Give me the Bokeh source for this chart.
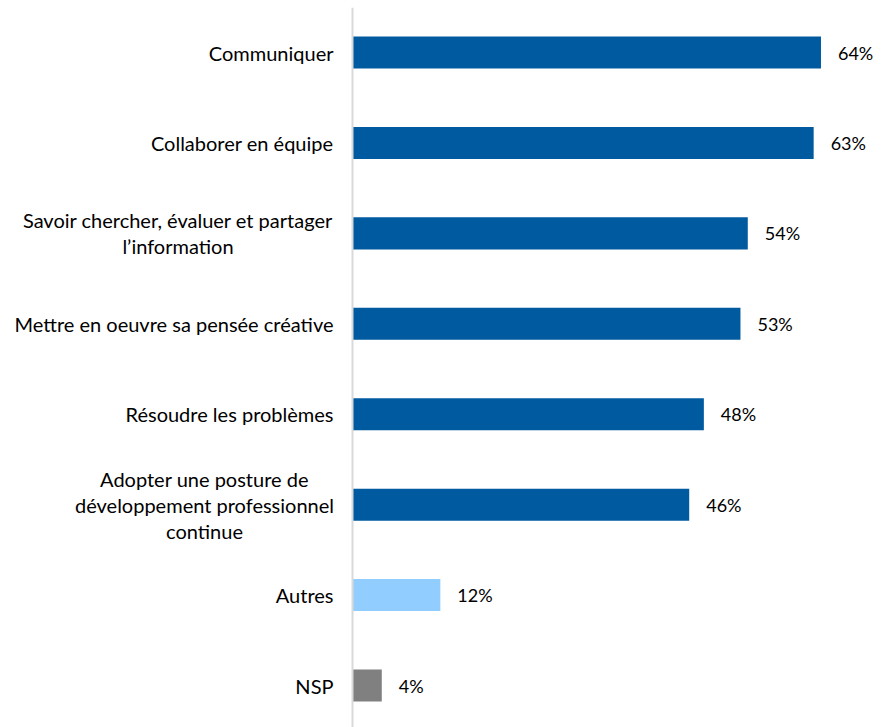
from bokeh.plotting import figure
from bokeh.models import Range1d, ColumnDataSource, Span
from bokeh.embed import file_html
from bokeh.resources import INLINE
from bokeh.core.properties import value

categories = [
    "Communiquer",
    "Collaborer en équipe",
    "Savoir chercher, évaluer et partager\nl\u2019information",
    "Mettre en oeuvre sa pensée créative",
    "Résoudre les problèmes",
    "Adopter une posture de\ndéveloppement professionnel\ncontinue",
    "Autres",
    "NSP",
]
values = [64, 63, 54, 53, 48, 46, 12, 4]
colors = ["#005AA0"] * 6 + ["#92CDFF", "#808080"]
value_labels = [f"{v}%" for v in values]

FONT = "Lato"
LABEL_SIZE = "20px"
GAP = 19  # px between label block and axis line
# estimated widest-line width (px) of multi-line labels, used to center the lines of the block
block_width = {2: 311, 5: 258}

positions = list(range(len(categories)))
src = ColumnDataSource(dict(y=positions, v=values, c=colors, lab=value_labels))

single = [i for i, c in enumerate(categories) if "\n" not in c]
multi = [i for i, c in enumerate(categories) if "\n" in c]
src_single = ColumnDataSource(dict(y=[positions[i] for i in single],
                                   x=[0] * len(single),
                                   t=[categories[i] for i in single]))
src_multi = ColumnDataSource(dict(y=[positions[i] for i in multi],
                                  x=[0] * len(multi),
                                  t=[categories[i] for i in multi],
                                  off=[-(GAP + block_width[i] / 2) for i in multi]))

PX = 7.32  # px per percentage point
p = figure(width=885, height=727, output_backend="svg", toolbar_location=None,
           x_range=Range1d(-352 / PX, (885 - 352) / PX),
           y_range=Range1d(7.464, -0.4976),
           min_border_left=0, min_border_right=0, min_border_top=7, min_border_bottom=0)

p.hbar(y="y", left=0, right="v", height=0.354, color="c", source=src, line_color=None)
p.text(x="v", y="y", text="lab", source=src, x_offset=17, text_align="left",
       text_baseline="middle", text_font=value(FONT), text_font_size="18px", text_color="#000000")

p.text(x="x", y="y", text="t", source=src_single, x_offset=-GAP, text_align="right",
       text_baseline="middle", text_font=value(FONT), text_font_size=LABEL_SIZE, text_color="#000000")
p.text(x="x", y="y", text="t", source=src_multi, x_offset="off", text_align="center",
       text_baseline="middle", text_font=value(FONT), text_font_size=LABEL_SIZE, text_color="#000000",
       text_line_height=1.08)

p.add_layout(Span(location=0, dimension="height", line_color="#D9D9D9", line_width=2))

p.xaxis.visible = False
p.yaxis.visible = False
p.xgrid.visible = False
p.ygrid.visible = False
p.outline_line_color = None

open("out.html", "w").write(file_html(p, INLINE))
